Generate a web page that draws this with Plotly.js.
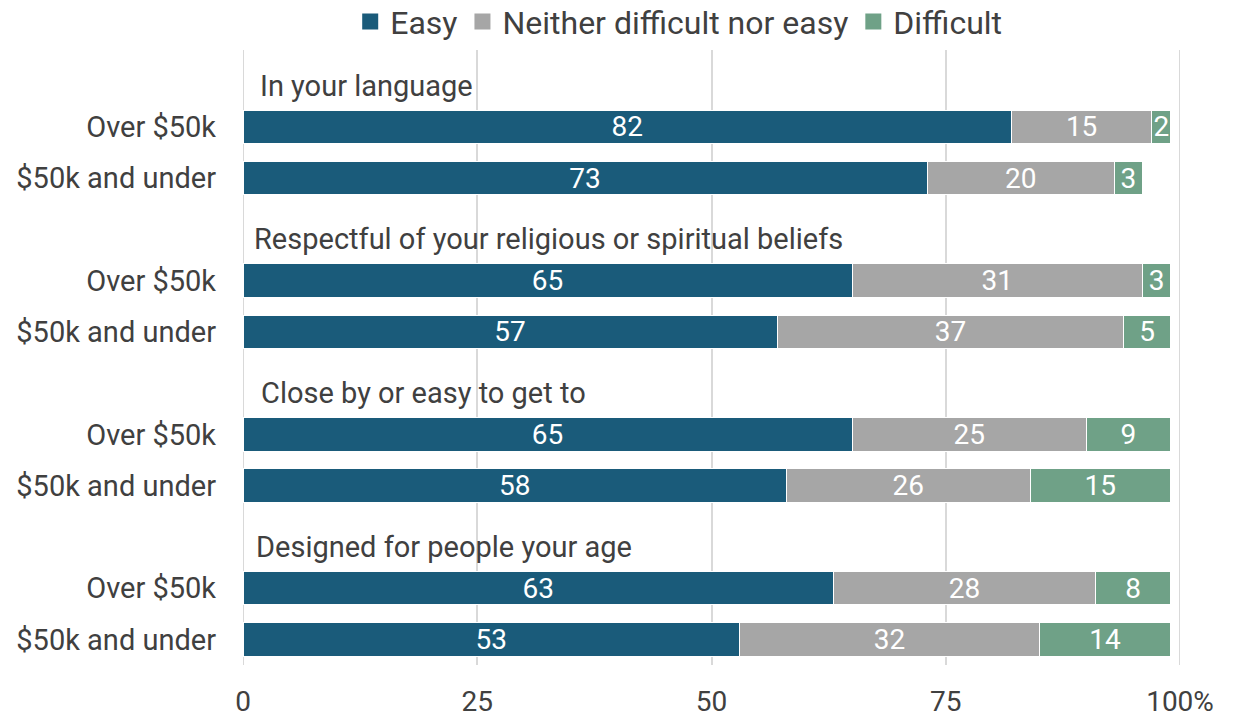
<!DOCTYPE html>
<html><head><meta charset="utf-8">
<script src="https://cdn.plot.ly/plotly-3.0.1.min.js"></script>
<style>body{margin:0;background:#fff}#c{width:1234px;height:719px}</style>
</head><body><div id="c"></div>
<script>
const groups = ["In your language", "Respectful of your religious or spiritual beliefs", "Close by or easy to get to", "Designed for people your age"];
const incomes = ["Over $50k", "$50k and under"];
const easy = [82, 73, 65, 57, 65, 58, 63, 53];
const neither = [15, 20, 31, 37, 25, 26, 28, 32];
const difficult = [2, 3, 3, 5, 9, 15, 8, 14];
const seriesNames = ["Easy", "Neither difficult nor easy", "Difficult"];
const colors = ["#1a5b7a", "#a6a6a6", "#6fa187"];
const xTickVals = [0, 25, 50, 75, 100];
const xTickText = ["0", "25", "50", "75", "100%"];

const rowsPerGroup = incomes.length + 1;
const nRows = groups.length * rowsPerGroup;
const barY = [], barLabels = [], headerY = [];
groups.forEach((g, gi) => {
  headerY.push(nRows - 1 - gi * rowsPerGroup);
  incomes.forEach((inc, ii) => {
    barY.push(nRows - 1 - (gi * rowsPerGroup + 1 + ii));
    barLabels.push(inc);
  });
});

const vals = [easy, neither, difficult];
const traces = vals.map((v, i) => ({
  type: "bar", orientation: "h", name: seriesNames[i], legendgroup: seriesNames[i],
  showlegend: false,
  x: v, y: barY, width: 0.65,
  marker: {color: colors[i], line: {color: "#ffffff", width: 1}},
  text: v.map(String), textposition: "inside", insidetextanchor: "middle",
  textangle: 0, constraintext: "none",
  insidetextfont: {color: "#ffffff", size: 28, family: "Roboto"},
  hoverinfo: "x+name"
}));
seriesNames.forEach((n, i) => traces.push({
  type: "scatter", mode: "markers", name: n, legendgroup: n,
  x: [null], y: [null],
  marker: {symbol: "square", size: 20, color: colors[i]},
  hoverinfo: "skip"
}));

const headerShift = [15, 9, 16, 11];
const annotations = groups.map((g, gi) => ({
  text: g, x: 0, xref: "x", y: headerY[gi], yref: "y",
  xanchor: "left", yanchor: "middle", xshift: headerShift[gi], yshift: -10,
  showarrow: false, font: {size: 29, color: "#404040", family: "Roboto"}
}));

const layout = {
  width: 1234, height: 719,
  margin: {l: 243, r: 54, t: 50, b: 54, autoexpand: false},
  barmode: "stack",
  paper_bgcolor: "#fff", plot_bgcolor: "#fff",
  font: {family: "Roboto", size: 29, color: "#404040"},
  showlegend: true,
  legend: {orientation: "h", x: 0.465, xanchor: "center", y: 1.046, yanchor: "middle",
           font: {size: 32, color: "#404040"}, traceorder: "normal", itemwidth: 30,
           itemsizing: "trace"},
  xaxis: {range: [0, 100], tickvals: xTickVals, ticktext: xTickText, automargin: false,
          showgrid: true, gridcolor: "#d9d9d9", gridwidth: 2, zeroline: false,
          showline: false, ticks: "", ticklabelstandoff: 17, fixedrange: true,
          tickfont: {size: 28}},
  yaxis: {range: [-0.5, nRows - 0.5], tickvals: barY, ticktext: barLabels, automargin: false,
          showgrid: false, zeroline: false, showline: false, ticks: "",
          ticklabelstandoff: 26, fixedrange: true},
  shapes: [0, 100].map(v => ({type: "line", xref: "x", yref: "paper", x0: v, x1: v, y0: 0, y1: 1,
            line: {color: "#d9d9d9", width: 2}, layer: "below"})),
  annotations: annotations
};
Plotly.newPlot("c", traces, layout, {displayModeBar: false, staticPlot: true});
</script></body></html>
